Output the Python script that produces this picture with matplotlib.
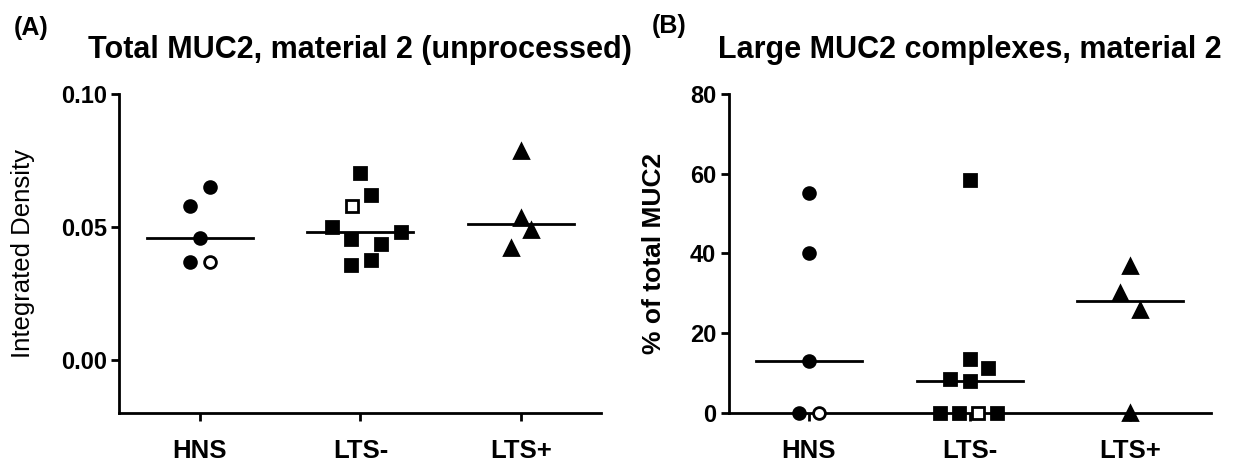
import numpy as np
import matplotlib
matplotlib.use("Agg")
import matplotlib.pyplot as plt

plt.rcParams['font.family'] = ['Liberation Sans', 'DejaVu Sans']

# groups on the x axis
groups = ['HNS', 'LTS-', 'LTS+']

# panel A - integrated density
a_hns = [0.0649, 0.0579, 0.0459, 0.0367, 0.0367]
a_hns_dx = [0.065, -0.058, 0.0, -0.058, 0.065]
a_hns_open = [4]
a_ltsm = [0.0702, 0.0618, 0.0580, 0.0501, 0.0480, 0.0456, 0.0437, 0.0376, 0.0355]
a_ltsm_dx = [0.0, 0.067, -0.052, -0.176, 0.25, -0.057, 0.126, 0.067, -0.057]
a_ltsm_open = [2]
a_ltsp = [0.0787, 0.0533, 0.0489, 0.0420]
a_ltsp_dx = [0.0, 0.0, 0.062, -0.062]

# panel B - % of total MUC2
b_hns = [55.2, 40.0, 13.0, 0.0, 0.0]
b_hns_dx = [0.0, 0.0, 0.0, -0.062, 0.062]
b_hns_open = [4]
b_ltsm = [58.5, 13.6, 11.3, 8.4, 7.9, 0.0, 0.0, 0.0, 0.0]
b_ltsm_dx = [0.0, 0.0, 0.116, -0.124, 0.0, -0.186, -0.067, 0.052, 0.173]
b_ltsm_open = [7]
b_ltsp = [36.8, 30.1, 25.9, 0.0]
b_ltsp_dx = [0.0, -0.062, 0.062, 0.0]

markers = ['o', 's', '^']


def draw_group(ax, i, vals, dx, marker, open_idx):
    vals = np.array(vals)
    xs = i + np.array(dx)
    # median line under the points
    ax.plot([i - 0.33, i + 0.33], [np.median(vals)] * 2, color='black', lw=2, zorder=2)
    for j in range(len(vals)):
        face = 'white' if j in open_idx else 'black'
        ax.plot(xs[j], vals[j], marker=marker, ms=8.5 if marker != '^' else 9.5,
                mfc=face, mec='black', mew=2, ls='none', zorder=3, clip_on=False)


def style_axes(ax):
    ax.spines['top'].set_visible(False)
    ax.spines['right'].set_visible(False)
    ax.spines['left'].set_linewidth(2)
    ax.spines['bottom'].set_linewidth(2)
    ax.tick_params(axis='both', width=2, length=6)
    ax.set_xlim(-0.5, 2.5)
    ax.set_xticks(range(3))
    ax.set_xticklabels(groups, fontsize=18.5, fontweight='bold')
    ax.tick_params(axis='x', pad=13)
    ax.tick_params(axis='y', pad=3)
    for lab in ax.get_yticklabels():
        lab.set_fontsize(17)
        lab.set_fontweight('bold')


fig = plt.figure(figsize=(12.39, 4.65), dpi=100)
axA = fig.add_axes([0.0964, 0.112, 0.389, 0.686])
axB = fig.add_axes([0.588, 0.112, 0.389, 0.686])

# panel A
draw_group(axA, 0, a_hns, a_hns_dx, markers[0], a_hns_open)
draw_group(axA, 1, a_ltsm, a_ltsm_dx, markers[1], a_ltsm_open)
draw_group(axA, 2, a_ltsp, a_ltsp_dx, markers[2], [])
axA.set_ylim(-0.02, 0.10)
axA.set_yticks([0.0, 0.05, 0.10])
axA.set_yticklabels(['0.00', '0.05', '0.10'])
style_axes(axA)
axA.spines['left'].set_bounds(-0.02, 0.10)
axA.set_ylabel('Integrated Density', fontsize=18.5)
axA.yaxis.set_label_coords(-0.175, 0.5)
axA.set_title('Total MUC2, material 2 (unprocessed)', fontsize=22, fontweight='bold', pad=26)

# panel B
draw_group(axB, 0, b_hns, b_hns_dx, markers[0], b_hns_open)
draw_group(axB, 1, b_ltsm, b_ltsm_dx, markers[1], b_ltsm_open)
draw_group(axB, 2, b_ltsp, b_ltsp_dx, markers[2], [])
axB.set_ylim(0, 80)
axB.set_yticks([0, 20, 40, 60, 80])
style_axes(axB)
axB.set_ylabel('% of total MUC2', fontsize=19, fontweight='bold')
axB.yaxis.set_label_coords(-0.129, 0.5)
axB.set_title('Large MUC2 complexes, material 2', fontsize=22, fontweight='bold', pad=26)

fig.text(0.011, 0.925, '(A)', fontsize=18, fontweight='bold')
fig.text(0.526, 0.929, '(B)', fontsize=18, fontweight='bold')

fig.savefig('out.png', dpi=100)
